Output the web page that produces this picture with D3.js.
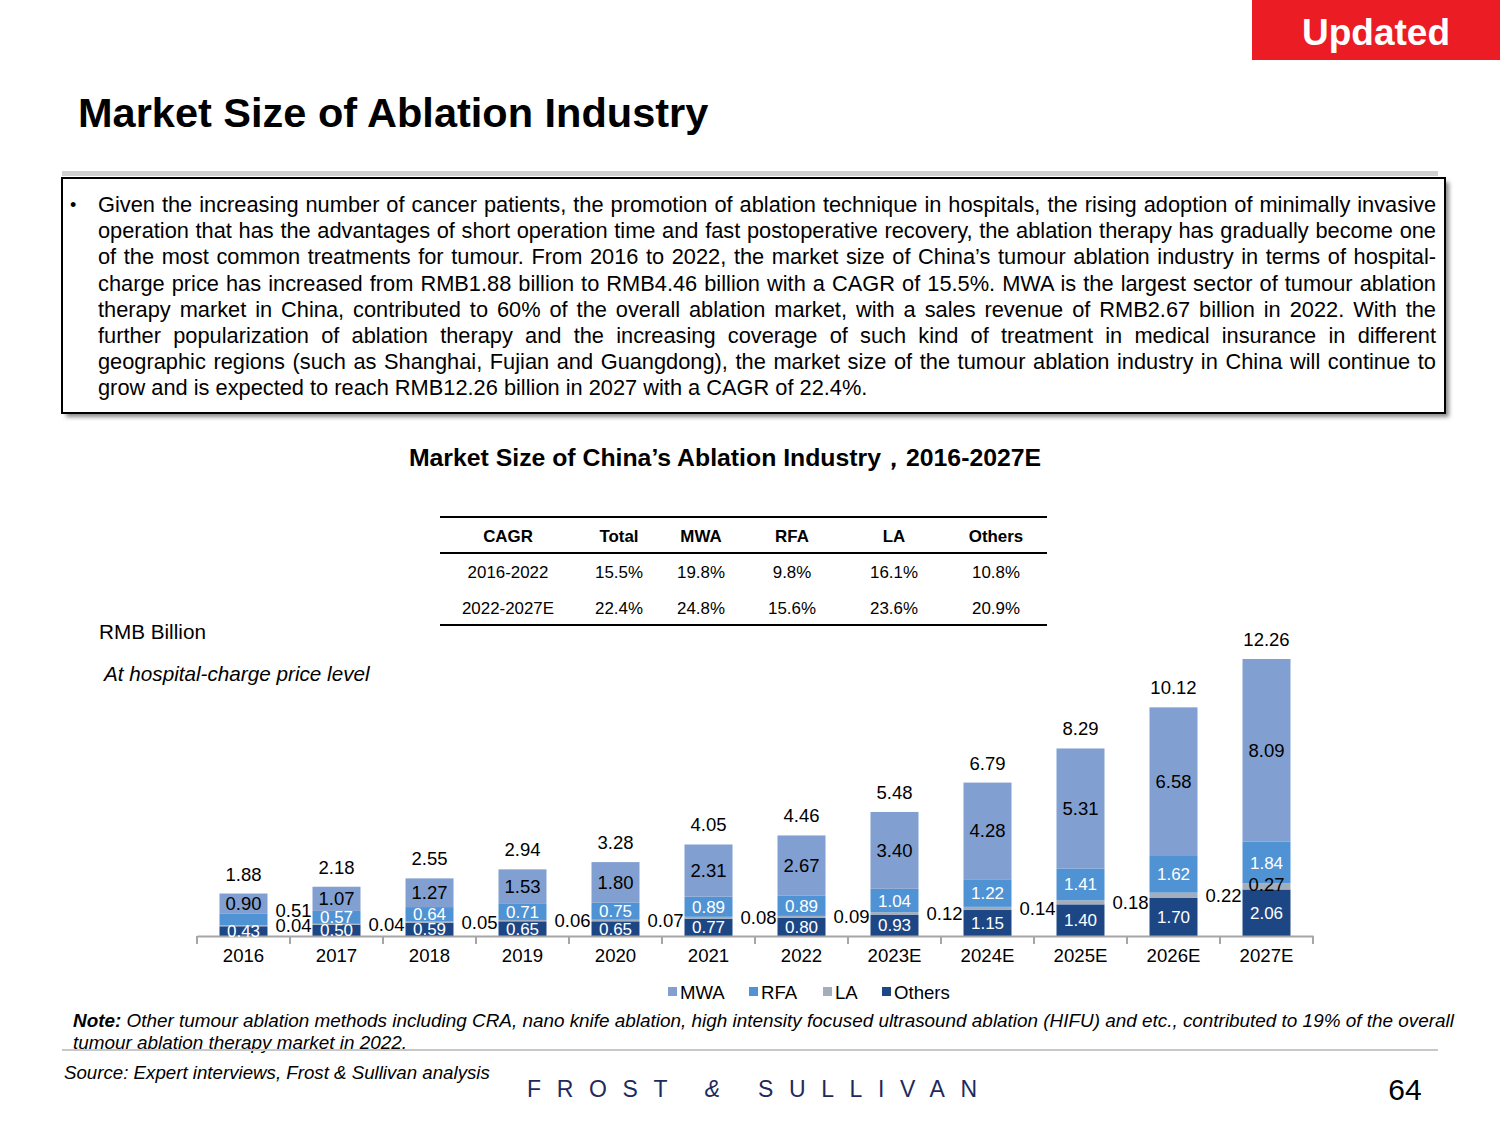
<!DOCTYPE html>
<html>
<head>
<meta charset="utf-8">
<script src="https://cdn.jsdelivr.net/npm/d3@7"></script>
<style>
html,body{margin:0;padding:0;background:#fff;}
svg{display:block;}
text{font-family:"Liberation Sans",Arial,sans-serif;}
</style>
</head>
<body>
<script>
// ---------- DATA ----------
const years = ["2016","2017","2018","2019","2020","2021","2022","2023E","2024E","2025E","2026E","2027E"];
const others = [0.43,0.50,0.59,0.65,0.65,0.77,0.80,0.93,1.15,1.40,1.70,2.06];
const la     = [0.04,0.04,0.05,0.06,0.07,0.08,0.09,0.12,0.14,0.18,0.22,0.27];
const rfa    = [0.51,0.57,0.64,0.71,0.75,0.89,0.89,1.04,1.22,1.41,1.62,1.84];
const mwa    = [0.90,1.07,1.27,1.53,1.80,2.31,2.67,3.40,4.28,5.31,6.58,8.09];
const totals = [1.88,2.18,2.55,2.94,3.28,4.05,4.46,5.48,6.79,8.29,10.12,12.26];
const seriesNames = ["Others","LA","RFA","MWA"];
const legendNames = ["MWA","RFA","LA","Others"];

const cagrHeader = ["CAGR","Total","MWA","RFA","LA","Others"];
const cagrRow1 = ["2016-2022","15.5%","19.8%","9.8%","16.1%","10.8%"];
const cagrRow2 = ["2022-2027E","22.4%","24.8%","15.6%","23.6%","20.9%"];

const paragraphLines = [
 "Given the increasing number of cancer patients, the promotion of ablation technique in hospitals, the rising adoption of minimally invasive",
 "operation that has the advantages of short operation time and fast postoperative recovery, the ablation therapy has gradually become one",
 "of the most common treatments for tumour. From 2016 to 2022, the market size of China\u2019s tumour ablation industry in terms of hospital-",
 "charge price has increased from RMB1.88 billion to RMB4.46 billion with a CAGR of 15.5%. MWA is the largest sector of tumour ablation",
 "therapy market in China, contributed to 60% of the overall ablation market, with a sales revenue of RMB2.67 billion in 2022. With the",
 "further popularization of ablation therapy and the increasing coverage of such kind of treatment in medical insurance in different",
 "geographic regions (such as Shanghai, Fujian and Guangdong), the market size of the tumour ablation industry in China will continue to",
 "grow and is expected to reach RMB12.26 billion in 2027 with a CAGR of 22.4%."
];

// ---------- STYLE ----------
const colors = {MWA:"#819fd0", RFA:"#4f93d4", LA:"#a4adbb", Others:"#1d4685"};
const W = 1500, H = 1125;

const svg = d3.select("body").append("svg").attr("width",W).attr("height",H);

// Updated badge
svg.append("rect").attr("x",1252).attr("y",0).attr("width",248).attr("height",60).attr("fill","#ec1c24");
svg.append("text").attr("x",1376).attr("y",45).attr("text-anchor","middle")
  .attr("font-size",37).attr("font-weight","bold").attr("fill","#fff").text("Updated");

// Main title
svg.append("text").attr("x",78).attr("y",127).attr("font-size",41.5).attr("font-weight","bold")
  .attr("fill","#000").text("Market Size of Ablation Industry");

// grey band
svg.append("rect").attr("x",62).attr("y",171).attr("width",1376).attr("height",5).attr("fill","#d0d0d0");

// text box with shadow
const defs = svg.append("defs");
const f = defs.append("filter").attr("id","blur").attr("x","-5%").attr("y","-5%").attr("width","110%").attr("height","120%");
f.append("feGaussianBlur").attr("stdDeviation",2);
svg.append("rect").attr("x",66).attr("y",182).attr("width",1383).attr("height",235).attr("fill","#888").attr("filter","url(#blur)");
svg.append("rect").attr("x",62).attr("y",178).attr("width",1383).attr("height",235).attr("fill","#fff").attr("stroke","#000").attr("stroke-width",2);

svg.append("text").attr("x",70).attr("y",211).attr("font-size",18).text("\u2022");
const paraX = 98, paraW = 1338;
paragraphLines.forEach((ln,i)=>{
  const t = svg.append("text").attr("x",paraX).attr("y",212 + i*26.2).attr("font-size",21.8).attr("fill","#000").text(ln);
  if (i < paragraphLines.length-1) {
    const w = t.node().getComputedTextLength();
    const n = (ln.match(/ /g)||[]).length;
    if (n>0) t.attr("word-spacing", (paraW - w)/n);
  }
});

// Chart title
svg.append("text").attr("x",725).attr("y",466).attr("text-anchor","middle").attr("font-size",24.8)
  .attr("font-weight","bold").text("Market Size of China\u2019s Ablation Industry\uFF0C2016-2027E");

// CAGR table
const colX = [508,619,701,792,894,996];
[517,553,625].forEach(y=>{
  svg.append("line").attr("x1",440).attr("x2",1047).attr("y1",y).attr("y2",y).attr("stroke","#000").attr("stroke-width",2);
});
[[cagrHeader,542,"bold"],[cagrRow1,578,"normal"],[cagrRow2,614,"normal"]].forEach(([row,y,wt])=>{
  svg.append("g").selectAll("text").data(row).join("text")
    .attr("x",(d,i)=>colX[i]).attr("y",y).attr("text-anchor","middle")
    .attr("font-size",16.9).attr("font-weight",wt).text(d=>d);
});

// Axis unit labels
svg.append("text").attr("x",99).attr("y",639).attr("font-size",20.7).text("RMB Billion");
svg.append("text").attr("x",104).attr("y",681).attr("font-size",20.7).attr("font-style","italic").text("At hospital-charge price level");

// ---------- CHART ----------
const baseY = 936;
const x = d3.scaleBand().domain(years).range([197,1313]).paddingInner(0.484).paddingOuter(0.242);
const y = d3.scaleLinear().domain([0,12.26]).range([baseY,659]);

const table = years.map((yr,i)=>({year:yr, Others:others[i], LA:la[i], RFA:rfa[i], MWA:mwa[i], total:totals[i], idx:i}));
const stack = d3.stack().keys(seriesNames)(table);

const gBars = svg.append("g");
stack.forEach(s=>{
  gBars.append("g").selectAll("rect").data(s).join("rect")
    .attr("x",d=>x(d.data.year)).attr("width",x.bandwidth())
    .attr("y",d=>y(d[1])).attr("height",d=>y(d[0])-y(d[1]))
    .attr("fill",colors[s.key]);
});

// Axis
const axisG = svg.append("g").attr("transform",`translate(0,${baseY})`)
  .call(d3.axisBottom(x).tickSize(0).tickPadding(13));
axisG.select(".domain").attr("stroke","#a6a6a6").attr("stroke-width",2);
axisG.selectAll(".tick text").attr("font-size",18.6).attr("fill","#000").attr("font-family","Liberation Sans, Arial, sans-serif");
const step = x.step();
const bounds = d3.range(years.length+1).map(i=>x(years[0]) - (step - x.bandwidth())/2 + i*step);
svg.append("g").selectAll("line").data(bounds).join("line")
  .attr("x1",d=>d).attr("x2",d=>d).attr("y1",baseY).attr("y2",baseY+8)
  .attr("stroke","#a6a6a6").attr("stroke-width",2);

// Labels
const lab = svg.append("g").attr("font-size",18.5);
const mid = (a,b)=> (y(a)+y(b))/2;
table.forEach((d,i)=>{
  const cx = x(d.year)+x.bandwidth()/2;
  const oTop = d.Others, lTop = oTop+d.LA, rTop = lTop+d.RFA, mTop = rTop+d.MWA;
  // total
  lab.append("text").attr("x",cx).attr("y",y(mTop)-13).attr("text-anchor","middle").attr("fill","#000").text(d.total.toFixed(2));
  // MWA
  lab.append("text").attr("x",cx).attr("y",mid(rTop,mTop)+6.5).attr("text-anchor","middle").attr("fill","#000").text(d.MWA.toFixed(2));
  // Others
  lab.append("text").attr("x",cx).attr("y",mid(0,oTop)+6).attr("text-anchor","middle").attr("fill","#fff").attr("font-size",17).text(d.Others.toFixed(2));
  // LA
  const laY = mid(oTop,lTop)+6.5;
  if (i < years.length-1) {
    const rx = x(d.year)+step-1;
    lab.append("text").attr("x",rx).attr("y",laY).attr("text-anchor","end").attr("fill","#000").text(d.LA.toFixed(2));
    if (i===0) {
      lab.append("text").attr("x",rx).attr("y",laY-15).attr("text-anchor","end").attr("fill","#000").text(d.RFA.toFixed(2));
    }
  } else {
    lab.append("text").attr("x",cx).attr("y",laY-2).attr("text-anchor","middle").attr("fill","#000").text(d.LA.toFixed(2));
  }
  // RFA
  if (i !== 0) {
    lab.append("text").attr("x",cx).attr("y",mid(lTop,rTop)+6).attr("text-anchor","middle").attr("fill","#fff").attr("font-size",17).text(d.RFA.toFixed(2));
  }
});

// Legend
const legX = [668,749,823,882];
const leg = svg.append("g");
legendNames.forEach((n,i)=>{
  leg.append("rect").attr("x",legX[i]).attr("y",987).attr("width",9).attr("height",9).attr("fill",colors[n]);
  leg.append("text").attr("x",legX[i]+12).attr("y",999).attr("font-size",18.6).text(n);
});

// Note
const note = svg.append("text").attr("x",73).attr("y",1027).attr("font-size",18.9).attr("font-style","italic");
note.append("tspan").attr("font-weight","bold").text("Note:");
note.append("tspan").text(" Other tumour ablation methods including CRA, nano knife ablation, high intensity focused ultrasound ablation (HIFU) and etc., contributed to 19% of the overall");
svg.append("text").attr("x",73).attr("y",1049).attr("font-size",18.9).attr("font-style","italic").text("tumour ablation therapy market in 2022.");
svg.append("rect").attr("x",62).attr("y",1049).attr("width",1376).attr("height",2).attr("fill","#c8c8c8");

svg.append("text").attr("x",64).attr("y",1079).attr("font-size",18.7).attr("font-style","italic").text("Source: Expert interviews, Frost & Sullivan analysis");

// Logo
const logo = svg.append("text").attr("x",527).attr("y",1097).attr("font-size",23)
  .attr("font-family","Liberation Serif, Times New Roman, serif").attr("fill","#1f2a5c")
  .attr("textLength",450).attr("lengthAdjust","spacing");
logo.append("tspan").text("FROST ");
logo.append("tspan").attr("font-style","italic").text("&");
logo.append("tspan").text(" SULLIVAN");

svg.append("text").attr("x",1405).attr("y",1100).attr("text-anchor","middle").attr("font-size",30).text("64");
</script>
</body>
</html>
